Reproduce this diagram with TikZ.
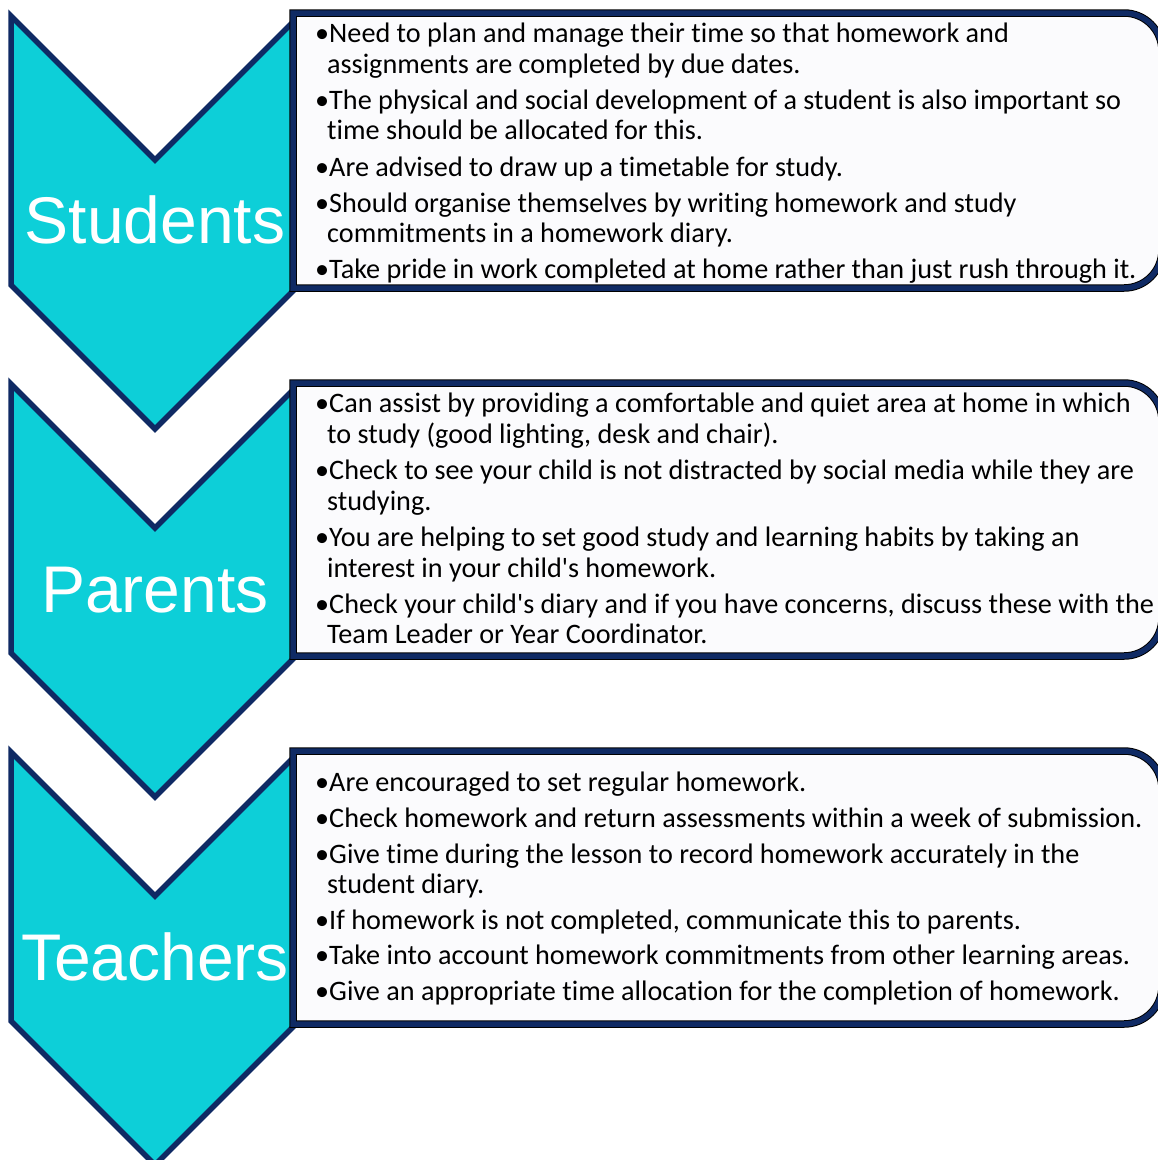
\documentclass[tikz,border=0pt]{standalone}
\usepackage{fontspec}
\setmainfont{Carlito}[Ligatures={TeX,NoCommon}]
\newfontfamily\labfont{Liberation Sans}
\definecolor{cyanfill}{HTML}{0DCFD8}
\definecolor{navy}{HTML}{0F2A64}
\definecolor{boxfill}{HTML}{FBFBFD}
\begin{document}
\begin{tikzpicture}[x=1pt,y=-1pt,
  chev/.style={fill=cyanfill, draw=navy, line width=5.5pt, line join=miter},
  boxouter/.style={fill=boxfill, draw=black, line width=7.5pt, line join=miter},
  boxinner/.style={draw=navy, line width=5.5pt, line join=miter},
  lab/.style={font=\labfont\fontsize{66}{66}\selectfont, text=white, anchor=base, inner sep=0pt},
  txt/.style={font=\fontsize{28.2}{30}\selectfont, anchor=base west, inner sep=0pt, text=black},
  cont/.style={txt}]
\useasboundingbox (0,0) rectangle (1158,1160);
\clip (0,0) rectangle (1158,1160);
% chevrons
\foreach \d in {0,368,736}{
  \draw[chev] (11,16+\d) -- (155,160+\d) -- (293,22+\d) -- (299,22+\d) -- (299,285+\d) -- (155,429+\d) -- (11,285+\d) -- cycle;
}
% boxes
\foreach \t/\b in {13/288, 383/656, 751/1024}{
  \path[boxouter] (293,\b) -- (293,\t) -- (1124,\t) .. controls (1145,\t) and (1162,\t+17) .. (1162,\t+38)
     -- (1162,\b-38) .. controls (1162,\b-17) and (1145,\b) .. (1124,\b) -- cycle;
  \path[boxinner] (293,\b) -- (293,\t) -- (1124,\t) .. controls (1145,\t) and (1162,\t+17) .. (1162,\t+38)
     -- (1162,\b-38) .. controls (1162,\b-17) and (1145,\b) .. (1124,\b) -- cycle;
}
% labels
\node[lab] (students) at (155,243) {Students};
\node[lab] (parents) at (155,612) {Parents};
\node[lab] (teachers) at (155,980) {Teachers};
% students text
\node[txt] (s1a) at (315,42) {\textbullet Need to plan and manage their time so that homework and};
\node[cont] (s1b) at (327,73) {assignments are completed by due dates.};
\node[txt] (s2a) at (315,109) {\textbullet The physical and social development of a student is also important so};
\node[cont] (s2b) at (327,139) {time should be allocated for this.};
\node[txt] (s3) at (315,176) {\textbullet Are advised to draw up a timetable for study.};
\node[txt] (s4a) at (315,212) {\textbullet Should organise themselves by writing homework and study};
\node[cont] (s4b) at (327,242) {commitments in a homework diary.};
\node[txt] (s5) at (315,278) {\textbullet Take pride in work completed at home rather than just rush through it.};
% parents text
\node[txt] (p1a) at (315,412) {\textbullet Can assist by providing a comfortable and quiet area at home in which};
\node[cont] (p1b) at (327,443) {to study (good lighting, desk and chair).};
\node[txt] (p2a) at (315,479) {\textbullet Check to see your child is not distracted by social media while they are};
\node[cont] (p2b) at (327,510) {studying.};
\node[txt] (p3a) at (315,546) {\textbullet You are helping to set good study and learning habits by taking an};
\node[cont] (p3b) at (327,577) {interest in your child\textquotesingle s homework.};
\node[txt] (p4a) at (315,613) {\textbullet Check your child\textquotesingle s diary and if you have concerns, discuss these with the};
\node[cont] (p4b) at (327,643) {Team Leader or Year Coordinator.};
% teachers text
\node[txt] (t1) at (315,791) {\textbullet Are encouraged to set regular homework.};
\node[txt] (t2) at (315,827) {\textbullet Check homework and return assessments within a week of submission.};
\node[txt] (t3a) at (315,863) {\textbullet Give time during the lesson to record homework accurately in the};
\node[cont] (t3b) at (327,893) {student diary.};
\node[txt] (t4) at (315,929) {\textbullet If homework is not completed, communicate this to parents.};
\node[txt] (t5) at (315,964) {\textbullet Take into account homework commitments from other learning areas.};
\node[txt] (t6) at (315,1000) {\textbullet Give an appropriate time allocation for the completion of homework.};
\end{tikzpicture}
\end{document}
